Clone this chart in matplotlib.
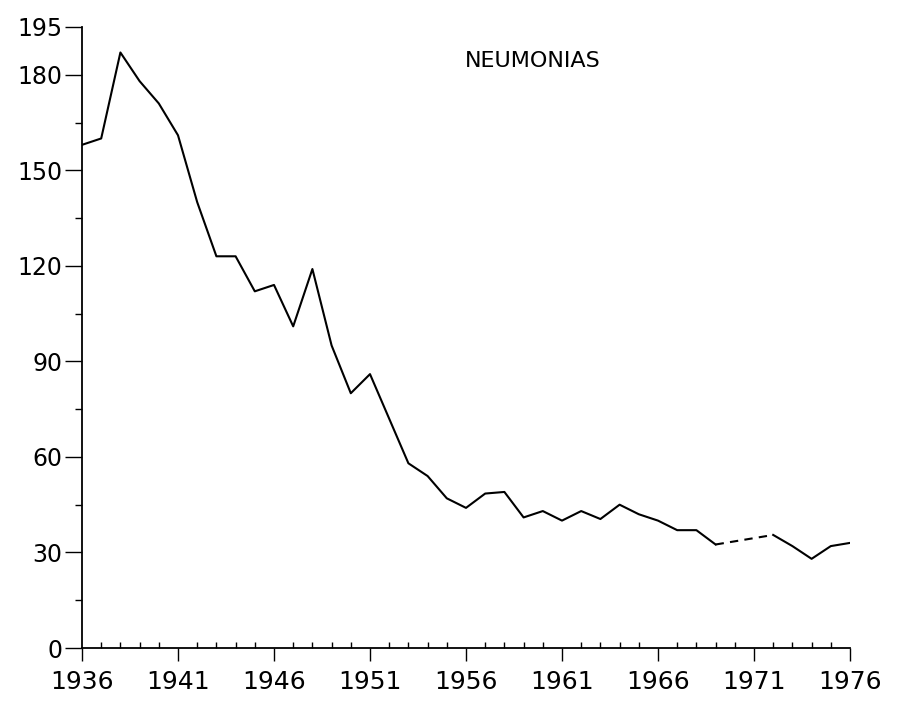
import matplotlib
matplotlib.use("Agg")
import matplotlib.pyplot as plt
from matplotlib.ticker import MultipleLocator

years = list(range(1936, 1977))
values = [158, 160, 187, 178, 171, 161, 140, 123, 123, 112,
          114, 101, 119, 95, 80, 86, 72, 58, 54, 47,
          44, 48.5, 49, 41, 43, 40, 43, 40.5, 45, 42,
          40, 37, 37, 32.5, 33.5, 34.5, 35.5, 32, 28, 32,
          33]
y_ticks = [0, 30, 60, 90, 120, 150, 180, 195]
x_ticks = [1936, 1941, 1946, 1951, 1956, 1961, 1966, 1971, 1976]
title = "NEUMONIAS"

fig = plt.figure(figsize=(9.01, 7.06), dpi=100)
ax = fig.add_axes([82/901, 1-648/706, (850-82)/901, (648-27)/706])

i0 = years.index(1969)
i1 = years.index(1972)
ax.plot(years[:i0+1], values[:i0+1], color="black", lw=1.5)
ax.plot(years[i0:i1+1], values[i0:i1+1], color="black", lw=1.5, ls=(0, (4, 3)))
ax.plot(years[i1:], values[i1:], color="black", lw=1.5)

ax.set_xlim(1936, 1976)
ax.set_ylim(0, 195)
ax.set_xticks(x_ticks)
ax.set_yticks(y_ticks)
ax.xaxis.set_minor_locator(MultipleLocator(1))
ax.yaxis.set_minor_locator(MultipleLocator(15))

for s in ["top", "right"]:
    ax.spines[s].set_visible(False)
for s in ["left", "bottom"]:
    ax.spines[s].set_linewidth(1.3)

ax.tick_params(axis="x", which="major", direction="out", length=9, width=1, pad=7, labelsize=18)
ax.tick_params(axis="x", which="minor", direction="in", length=4, width=1)
ax.tick_params(axis="y", which="major", direction="out", length=12, width=1, pad=2, labelsize=17)
ax.tick_params(axis="y", which="minor", direction="out", length=5, width=1)

ax.text(1959.5, 184.3, title, ha="center", va="center", fontsize=16)

fig.savefig("out.png", dpi=100)
